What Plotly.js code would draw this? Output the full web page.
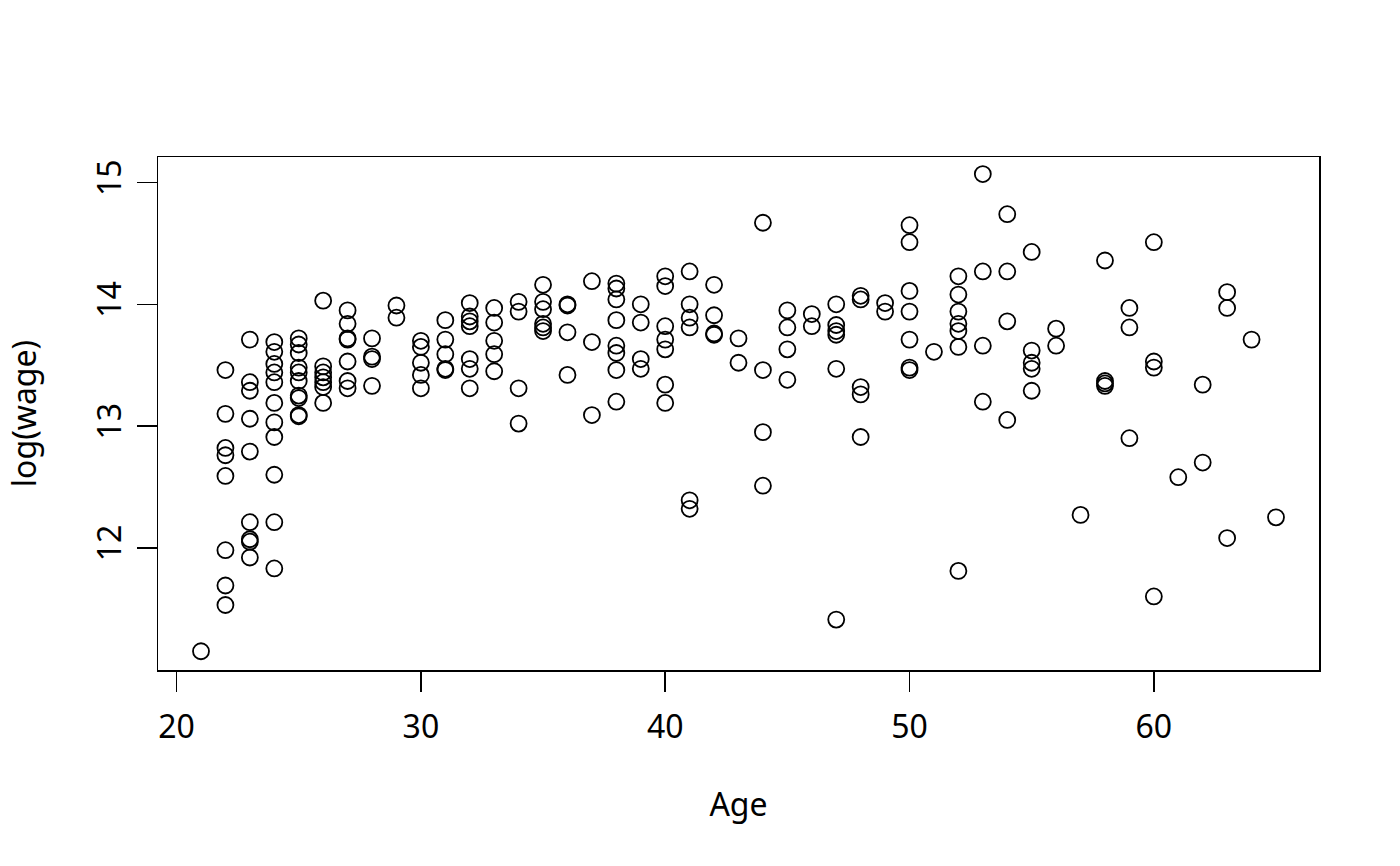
<!DOCTYPE html>
<html>
<head>
<meta charset="utf-8">
<script src="https://cdn.plot.ly/plotly-3.0.1.min.js"></script>
<style>html,body{margin:0;padding:0;background:#fff;}</style>
</head>
<body>
<div id="chart" style="width:1400px;height:866px;"></div>
<script>
// Age for each observation
const age = [
  21,
  22,22,22,22,22,22,22,22,
  23,23,23,23,23,23,23,23,23,
  24,24,24,24,24,24,24,24,24,24,24,
  25,25,25,25,25,25,25,25,25,25,
  26,26,26,26,26,26,26,
  27,27,27,27,27,27,27,
  28,28,28,28,
  29,29,
  30,30,30,30,30,
  31,31,31,31,31,
  32,32,32,32,32,32,32,
  33,33,33,33,33,
  34,34,34,34,
  35,35,35,35,35,35,
  36,36,36,36,
  37,37,37,
  38,38,38,38,38,38,38,38,
  39,39,39,39,
  40,40,40,40,40,40,40,
  41,41,41,41,41,41,
  42,42,42,42,
  43,43,
  44,44,44,44,
  45,45,45,45,
  46,46,
  47,47,47,47,47,47,
  48,48,48,48,48,
  49,49,
  50,50,50,50,50,50,50,
  51,
  52,52,52,52,52,52,52,
  53,53,53,53,
  54,54,54,54,
  55,55,55,55,55,
  56,56,
  57,
  58,58,58,58,
  59,59,59,
  60,60,60,60,
  61,
  62,62,
  63,63,63,
  64,
  65
];
// log(wage) for each observation
const logWage = [
  11.15,
  13.46,13.10,12.82,12.76,12.59,11.98,11.69,11.53,
  13.71,13.36,13.29,13.06,12.79,12.21,12.07,12.05,11.92,
  13.69,13.61,13.51,13.44,13.36,13.19,13.03,12.91,12.60,12.21,11.83,
  13.72,13.67,13.60,13.48,13.44,13.37,13.25,13.23,13.09,13.08,
  14.03,13.49,13.44,13.40,13.36,13.32,13.19,
  13.95,13.84,13.72,13.71,13.53,13.37,13.31,
  13.72,13.57,13.55,13.33,
  13.99,13.89,
  13.70,13.65,13.52,13.42,13.31,
  13.87,13.71,13.59,13.47,13.46,
  14.01,13.90,13.86,13.82,13.55,13.47,13.31,
  13.97,13.85,13.70,13.59,13.45,
  14.02,13.94,13.31,13.02,
  14.16,14.02,13.96,13.84,13.81,13.78,
  14.00,13.99,13.77,13.42,
  14.19,13.69,13.09,
  14.17,14.13,14.04,13.87,13.66,13.60,13.46,13.20,
  14.00,13.85,13.55,13.47,
  14.23,14.15,13.82,13.71,13.63,13.34,13.19,
  14.27,14.00,13.89,13.81,12.39,12.32,
  14.16,13.91,13.76,13.75,
  13.72,13.52,
  14.67,13.46,12.95,12.51,
  13.95,13.81,13.63,13.38,
  13.92,13.82,
  14.00,13.83,13.78,13.75,13.47,11.41,
  14.07,14.04,13.32,13.26,12.91,
  14.01,13.94,
  14.65,14.51,14.11,13.94,13.71,13.48,13.46,
  13.61,
  14.23,14.08,13.94,13.84,13.78,13.65,11.81,
  15.07,14.27,13.66,13.20,
  14.74,14.27,13.86,13.05,
  14.43,13.62,13.52,13.47,13.29,
  13.80,13.66,
  12.27,
  14.36,13.37,13.35,13.33,
  13.97,13.81,12.90,
  14.51,13.53,13.48,11.60,
  12.58,
  13.34,12.70,
  14.10,13.97,12.08,
  13.71,
  12.25
];
const xTicks = [20, 30, 40, 50, 60];
const yTicks = [12, 13, 14, 15];
const xLabel = "Age";
const yLabel = "log(wage)";

const font = {family: "Noto Sans, Open Sans, sans-serif", size: 32, color: "#000"};

const trace = {
  x: age, y: logWage, type: "scatter", mode: "markers",
  marker: {symbol: "circle-open", size: 16, color: "#000", line: {width: 1.8, color: "#000"}},
  hoverinfo: "skip"
};

const layout = {
  width: 1400, height: 866,
  margin: {l: 158, r: 81, t: 157, b: 196, pad: 0},
  paper_bgcolor: "#fff", plot_bgcolor: "#fff",
  font: font,
  showlegend: false,
  xaxis: {
    range: [19.24, 66.76], autorange: false,
    tickvals: xTicks, ticktext: xTicks.map(String),
    ticks: "outside", ticklen: 20, tickwidth: 1.5, tickcolor: "#000",
    ticklabelstandoff: 8,
    showline: true, mirror: true, linecolor: "#000", linewidth: 1.5,
    showgrid: false, zeroline: false,
    tickfont: font,
    automargin: false,
    title: {text: xLabel, font: font, standoff: 47}
  },
  yaxis: {
    range: [10.996, 15.21], autorange: false,
    tickvals: yTicks, ticktext: yTicks.map(String),
    tickangle: -90,
    ticks: "outside", ticklen: 20, tickwidth: 1.5, tickcolor: "#000",
    ticklabelstandoff: 3,
    showline: true, mirror: true, linecolor: "#000", linewidth: 1.5,
    showgrid: false, zeroline: false,
    tickfont: font,
    automargin: false,
    title: {text: yLabel, font: font, standoff: 40}
  }
};

Plotly.newPlot("chart", [trace], layout, {staticPlot: true, displayModeBar: false});
</script>
</body>
</html>
